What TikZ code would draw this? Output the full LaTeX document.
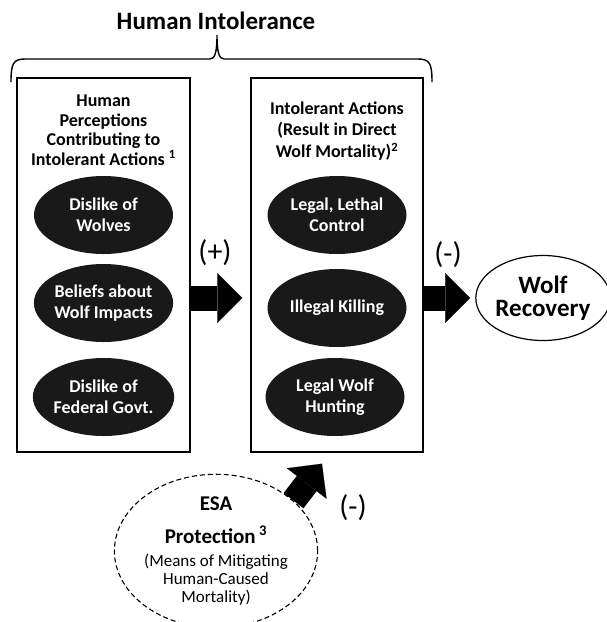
\documentclass[tikz,border=0pt]{standalone}
\usepackage{fontspec}
\setmainfont{Carlito}
\usetikzlibrary{arrows.meta,positioning,calc,shapes.geometric}

\begin{document}
\begin{tikzpicture}[x=1pt, y=-1pt,
    panel/.style={rectangle, draw, line width=1.4pt, minimum width=173pt, minimum height=374pt},
    header/.style={align=center, font=\bfseries\fontsize{18}{19.5}\selectfont},
    cause/.style={ellipse, fill=black!90, text=white, minimum width=139pt, minimum height=78pt, inner sep=0pt, align=center, font=\bfseries\fontsize{18}{21}\selectfont},
    blockarrow/.style={line width=25pt, -{Triangle[width=50pt, length=25pt, line width=0.1pt]}},
    sign/.style={font=\fontsize{30}{30}\selectfont}
]
    \useasboundingbox (0,0) rectangle (607,622);

    % Top: the brace over both boxes
    \node[font=\bfseries\fontsize{25}{25}\selectfont] (title) at (216,21) {Human Intolerance};
    \draw[line width=1.4pt] (11,82) .. controls (11,64) and (13,59) .. (25,59) -- (210,59)
        .. controls (215,59) and (217,52) .. (217,35) .. controls (217,52) and (219,59) .. (224,59)
        -- (418,59) .. controls (430,59) and (432,64) .. (432,82);

    % Left box: perceptions
    \node[panel] (lbox) at (103.5,265) {};
    \node[header] (lhead) at (103.5,130) {Human\\Perceptions\\Contributing to\\Intolerant Actions \textsuperscript{1}};
    \node[cause] (dislike) at (103.5,215) {Dislike of\\Wolves};
    \node[cause] (beliefs) at (103.5,303) {Beliefs about\\Wolf Impacts};
    \node[cause] (govt) at (103.5,397) {Dislike of\\Federal Govt.};

    % Right box: actions
    \node[panel, minimum width=172pt] (rbox) at (337,265) {};
    \node[header, font=\bfseries\fontsize{18}{21.5}\selectfont] (rhead) at (337,131) {Intolerant Actions\\(Result in Direct\\Wolf Mortality)\textsuperscript{2}};
    \node[cause] (lethal) at (337,215) {Legal, Lethal\\Control};
    \node[cause] (illegal) at (337,308) {Illegal Killing};
    \node[cause] (hunting) at (335,397) {Legal Wolf\\Hunting};

    % Outcome
    \node[ellipse, draw, line width=1.2pt, minimum width=126pt, minimum height=85pt, inner sep=0pt, align=center,
        font=\bfseries\fontsize{25}{23}\selectfont] (wolf) at (543,298) {Wolf\\Recovery};

    % ESA protection
    \node[ellipse, draw, dash pattern=on 5pt off 3pt, line width=1.1pt, minimum width=202pt, minimum height=138pt, inner sep=0pt, align=center,
        font=\fontsize{17}{18}\selectfont] (esa) at (216,551)
        {{\bfseries\fontsize{21}{18}\selectfont ESA}\\[15pt]{\bfseries\fontsize{21}{18}\selectfont Protection\,\textsuperscript{3}}\\[5pt](Means of Mitigating\\Human-Caused\\Mortality)};

    % Arrows
    \draw[blockarrow] (lbox.east |- wolf) -- ($(rbox.west |- wolf)+(-8,0)$);
    \draw[blockarrow] (rbox.east |- wolf) -- ($(wolf.west)+(-5,0)$);
    \draw[blockarrow] (esa.33) -- ($(rbox.south)+(-15,11)$);

    \node[sign] (plus) at (215,253) {(+)};
    \node[sign] (minus) at (448,255) {(-)};
    \node[sign] (esaminus) at (353,508) {(-)};
\end{tikzpicture}
\end{document}
